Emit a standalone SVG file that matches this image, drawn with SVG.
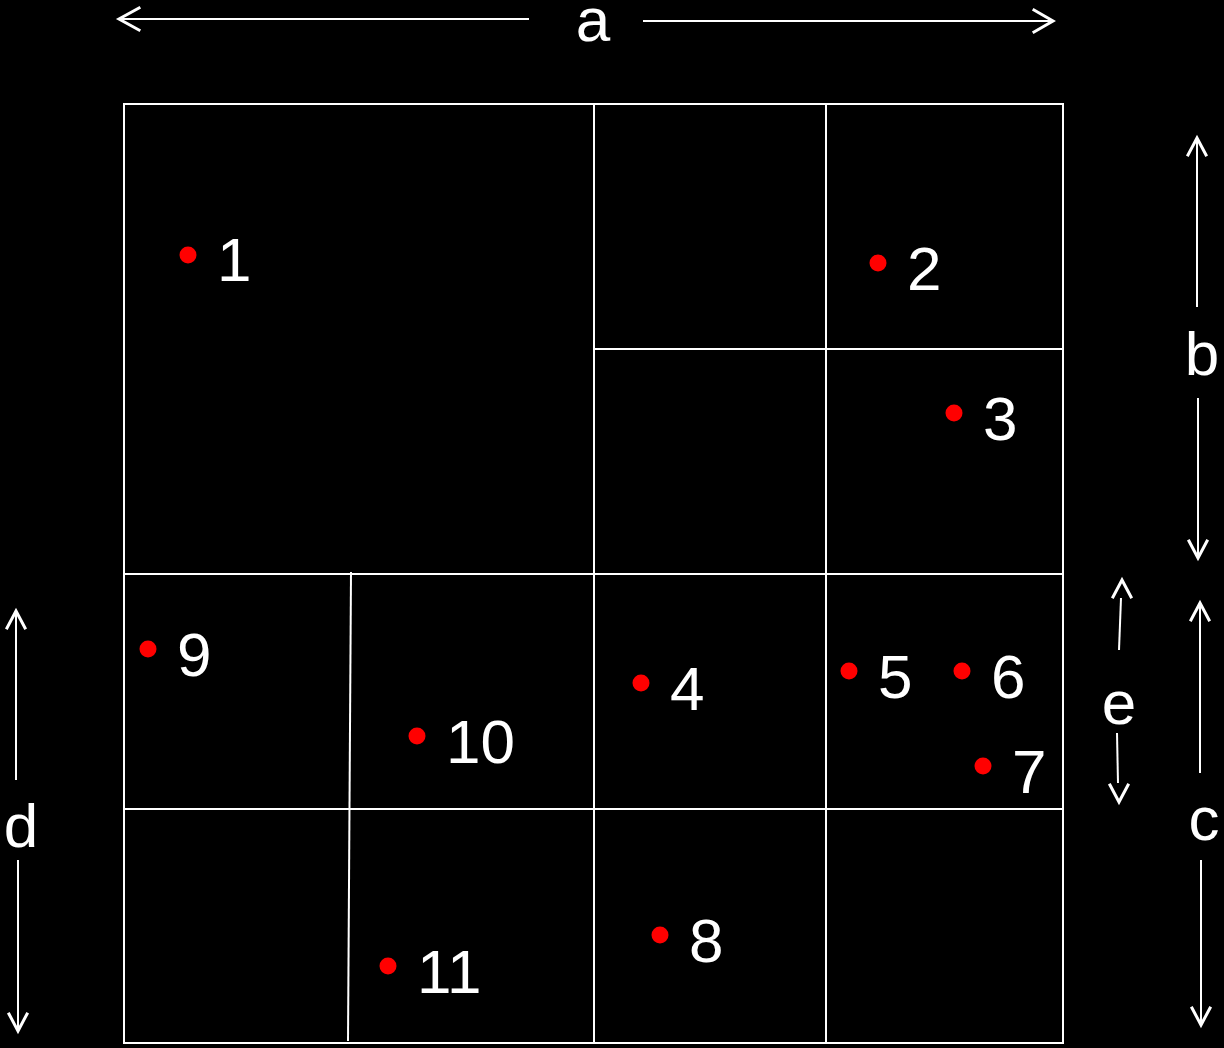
<svg xmlns="http://www.w3.org/2000/svg" width="1224" height="1048" viewBox="0 0 1224 1048">
<style>
.ln{stroke:#fff;stroke-width:2;fill:none}
.ah{stroke:#fff;stroke-width:3;fill:none;stroke-linecap:square}
.t{font-family:"Liberation Sans",Arial,sans-serif;font-size:62px;fill:#fff}
.dot{fill:#ff0000}
</style>
<rect width="1224" height="1048" fill="#000"/>
<g id="grid">
<rect class="ln" x="124" y="104" width="939" height="939"/>
<line class="ln" x1="594" y1="104" x2="594" y2="1043"/>
<line class="ln" x1="826" y1="104" x2="826" y2="1043"/>
<line class="ln" x1="594" y1="349" x2="1062" y2="349"/>
<line class="ln" x1="124" y1="574" x2="1063" y2="574"/>
<line class="ln" x1="124" y1="809" x2="1062" y2="809"/>
<line class="ln" x1="351" y1="572" x2="348" y2="1041"/>
</g>
<g id="connectors">
<line class="ln" x1="120" y1="19" x2="529" y2="19"/>
<path class="ah" d="M139,8 L119,19 L139,30"/>
<line class="ln" x1="643" y1="21" x2="1052" y2="21"/>
<path class="ah" d="M1034,10 L1053,21 L1034,32"/>
<line class="ln" x1="1197" y1="138" x2="1197" y2="307"/>
<path class="ah" d="M1188,155 L1197,138 L1206,155"/>
<line class="ln" x1="1198" y1="398" x2="1198" y2="557"/>
<path class="ah" d="M1189,541 L1198,558 L1207,541"/>
<line class="ln" x1="1200" y1="603" x2="1200" y2="773"/>
<path class="ah" d="M1191,620 L1200,603 L1209,620"/>
<line class="ln" x1="1201" y1="860" x2="1201" y2="1024"/>
<path class="ah" d="M1192,1008 L1201,1025 L1210,1008"/>
<line class="ln" x1="16" y1="611" x2="16" y2="780"/>
<path class="ah" d="M7,628 L16,611 L25,628"/>
<line class="ln" x1="18" y1="860" x2="18" y2="1030"/>
<path class="ah" d="M9,1014 L18,1031 L27,1014"/>
<line class="ln" x1="1121" y1="598" x2="1119" y2="650"/>
<path class="ah" d="M1113,597 L1122,580 L1131,597"/>
<line class="ln" x1="1117" y1="733" x2="1118" y2="783"/>
<path class="ah" d="M1110,785 L1119,802 L1128,785"/>
</g>
<g id="labels">
<text class="t" x="593" y="41" text-anchor="middle">a</text>
<text class="t" x="1202" y="375" text-anchor="middle">b</text>
<text class="t" x="1204" y="840" text-anchor="middle">c</text>
<text class="t" x="21" y="847" text-anchor="middle">d</text>
<text class="t" x="1119" y="724" text-anchor="middle">e</text>
</g>
<g id="p1"><circle class="dot" cx="188" cy="255" r="8.5"/><text class="t" x="217" y="281">1</text></g>
<g id="p2"><circle class="dot" cx="878" cy="263" r="8.5"/><text class="t" x="907" y="290">2</text></g>
<g id="p3"><circle class="dot" cx="954" cy="413" r="8.5"/><text class="t" x="983" y="440">3</text></g>
<g id="p4"><circle class="dot" cx="641" cy="683" r="8.5"/><text class="t" x="670" y="710">4</text></g>
<g id="p5"><circle class="dot" cx="849" cy="671" r="8.5"/><text class="t" x="878" y="698">5</text></g>
<g id="p6"><circle class="dot" cx="962" cy="671" r="8.5"/><text class="t" x="991" y="698">6</text></g>
<g id="p7"><circle class="dot" cx="983" cy="766" r="8.5"/><text class="t" x="1012" y="793">7</text></g>
<g id="p8"><circle class="dot" cx="660" cy="935" r="8.5"/><text class="t" x="689" y="962">8</text></g>
<g id="p9"><circle class="dot" cx="148" cy="649" r="8.5"/><text class="t" x="177" y="676">9</text></g>
<g id="p10"><circle class="dot" cx="417" cy="736" r="8.5"/><text class="t" x="446" y="763">10</text></g>
<g id="p11"><circle class="dot" cx="388" cy="966" r="8.5"/><text class="t" x="417" y="993">11</text></g>
</svg>
